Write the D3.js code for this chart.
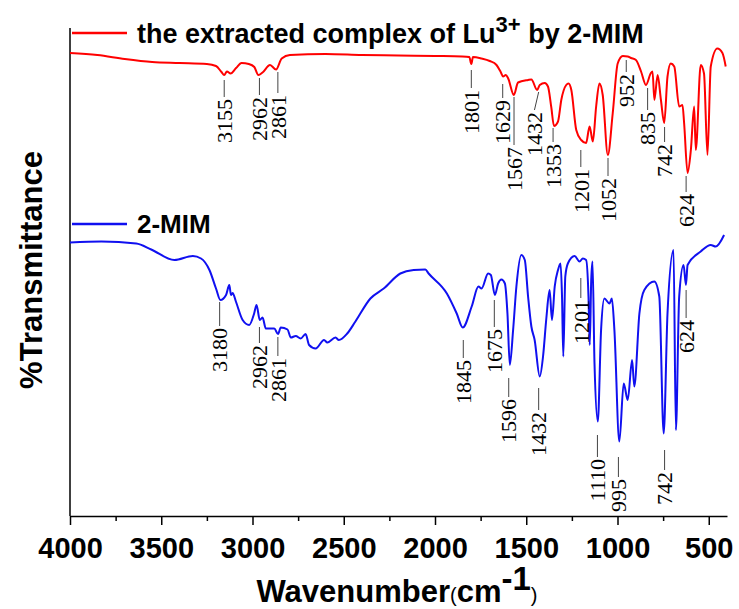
<!DOCTYPE html>
<html>
<head>
<meta charset="utf-8">
<script src="https://cdn.jsdelivr.net/npm/d3@7"></script>
<style>
  body { margin: 0; background: #fff; }
</style>
</head>
<body>
<div id="ftir"></div>
<script>
// FTIR spectra, wavenumber (cm-1) and %T
const redWn = [4000,3850,3700,3550,3400,3250,3200,3170,3155,3140,3120,3090,3060,3020,2990,2968,2945,2904,2871,2840,2795,2600,2400,2200,2000,1850,1812,1801,1792,1745,1700,1663,1640,1627,1612,1599,1568,1545,1490,1472,1440,1426,1399,1381,1363,1348,1326,1308,1281,1268,1253,1226,1199,1172,1153,1135,1117,1099,1081,1053,1026,999,971,944,926,899,871,844,817,808,798,780,762,744,726,708,689,662,644,635,616,598,580,571,544,526,507,489,453,425,407];
const redT = [92.6,92.2,91.4,90.8,90.6,90.4,90.0,88.8,88.2,88.9,88.5,89.6,90.6,90.4,89.8,88.2,88.7,90.2,89.3,91.5,92.2,92.4,92.2,92.1,92.0,91.9,91.8,90.4,91.8,91.5,91.0,90.2,88.8,87.9,88.2,87.5,84.2,86.7,87.2,87.3,85.2,86.2,86.6,85.9,81.8,78.0,78.9,83.2,86.2,86.5,85.2,77.2,75.2,74.6,77.9,74.9,81.9,86.5,84.2,72.2,80.6,90.5,92.0,91.9,91.6,91.2,88.9,86.2,88.6,88.9,83.2,88.2,83.2,78.6,87.9,90.5,89.9,81.9,82.2,78.6,68.6,73.2,81.9,73.2,90.2,88.5,72.2,89.9,93.5,92.6,89.9];

const blueWn = [4000,3828,3637,3555,3428,3327,3282,3236,3200,3176,3145,3127,3118,3109,3091,3054,3018,2991,2978,2960,2945,2927,2881,2860,2845,2808,2790,2763,2736,2709,2690,2654,2608,2590,2545,2527,2481,2436,2354,2281,2190,2117,2053,2035,1935,1881,1848,1799,1762,1745,1709,1694,1672,1654,1636,1617,1603,1590,1572,1554,1527,1508,1490,1472,1454,1426,1408,1390,1372,1359,1344,1326,1312,1304,1297,1286,1272,1235,1208,1190,1172,1159,1152,1144,1137,1126,1108,1090,1072,1044,1031,1017,990,966,944,920,908,880,853,798,771,747,726,693,680,662,638,625,616,544,489,462,416];
const blueT = [54.7,54.9,54.5,53.3,51.2,52.0,51.5,49.2,45.5,43.2,44.2,46.2,44.2,44.6,42.9,39.2,38.2,40.5,42.2,39.2,39.7,37.5,37.5,36.4,37.7,37.3,35.7,36.0,35.5,36.4,34.2,33.5,35.2,34.7,35.7,35.2,36.5,38.9,43.5,45.5,48.5,49.2,49.3,48.5,44.5,40.5,37.7,41.9,45.9,45.5,48.5,48.2,44.2,46.5,47.3,46.5,40.5,30.2,37.2,45.9,52.2,51.2,43.9,37.9,35.2,27.9,31.9,39.5,45.2,39.2,45.9,49.2,50.5,43.9,31.9,47.9,50.5,52.0,50.9,51.5,51.2,43.9,34.2,47.2,50.9,30.5,18.9,37.2,43.5,42.5,43.5,37.2,14.9,26.5,23.2,31.2,25.9,40.5,45.2,46.9,43.9,16.5,40.5,53.2,17.2,43.9,50.2,46.2,50.2,52.9,54.2,53.9,56.2];

// peak labels: text, wavenumber, %T at leader top, %T at leader bottom
const redPeaks = ["3155","2962","2861","1801","1629","1567","1432","1353","1201","1052","952","835","742","624"];
const redPeakWn = [3155,2962,2861,1801,1629,1567,1432,1353,1201,1052,952,835,742,624];
const redPeakLabelWn = [3155,2962,2861,1801,1629,1567,1455,1353,1201,1052,952,835,742,624];
const redPeakTop = [87.2,87.6,88.8,89.2,86.4,83.8,84.8,77.6,73.2,71.6,91.2,85.6,77.8,68.0];
const redPeakBottom = [83.8,84.2,84.6,85.6,83.6,74.2,81.2,74.8,69.8,68.0,88.8,81.2,74.8,64.8];

const bluePeaks = ["3180","2962","2861","1845","1675","1596","1432","1201","1110","995","742","624"];
const bluePeakWn = [3180,2962,2861,1845,1675,1596,1432,1201,1110,995,742,624];
const bluePeakTop = [42.8,37.8,35.8,35.2,43.2,27.6,25.6,47.6,16.2,11.8,13.2,45.2];
const bluePeakBottom = [38.0,34.6,32.0,31.6,37.8,23.8,21.2,43.6,11.8,7.8,9.2,39.6];

const xTicks = [4000,3500,3000,2500,2000,1500,1000,500];
const xMinorTicks = [3750,3250,2750,2250,1750,1250,750];
const yAxisTop = 97.6;

const width = 739, height = 609;

const svg = d3.select("#ftir")
  .append("svg")
  .attr("width", width)
  .attr("height", height);

const x = d3.scaleLinear().domain([4000, 400]).range([70, 727]);
const y = d3.scaleLinear().domain([0, 100]).range([516, 16]);

// axes
svg.append("g")
  .attr("transform", `translate(0,${y(0)})`)
  .call(d3.axisBottom(x).tickValues(xMinorTicks).tickSize(5).tickFormat(""))
  .call(g => g.select(".domain").remove())
  .selectAll("line").attr("stroke-width", 1.5);

const xAxis = svg.append("g")
  .attr("transform", `translate(0,${y(0)})`)
  .call(d3.axisBottom(x).tickValues(xTicks).tickSize(9).tickSizeOuter(0).tickPadding(12).tickFormat(d3.format("d")));
xAxis.select(".domain").attr("stroke-width", 1.5);
xAxis.selectAll("line").attr("stroke-width", 1.5);
xAxis.selectAll("text")
  .style("font-family", "'Liberation Sans', Arial, sans-serif")
  .style("font-weight", "bold")
  .style("font-size", "29px")
  .attr("fill", "#000");

svg.append("line")
  .attr("x1", x(4000)).attr("x2", x(4000))
  .attr("y1", y(0)).attr("y2", y(yAxisTop))
  .attr("stroke", "#000")
  .attr("stroke-width", 1.5);

// spectra
const line = d3.line()
  .x(d => x(d[0]))
  .y(d => y(d[1]))
  .curve(d3.curveMonotoneX);

svg.append("path")
  .datum(redWn.map((w, i) => [w, redT[i]]))
  .attr("fill", "none")
  .attr("stroke", "#ff0000")
  .attr("stroke-width", 2)
  .attr("d", line);

svg.append("path")
  .datum(blueWn.map((w, i) => [w, blueT[i]]))
  .attr("fill", "none")
  .attr("stroke", "#1010f0")
  .attr("stroke-width", 2)
  .attr("d", line);

// peak annotations
function drawPeaks(labels, wn, labelWn, top, bottom) {
  const g = svg.append("g");
  labels.forEach((lbl, i) => {
    g.append("line")
      .attr("x1", x(wn[i])).attr("y1", y(top[i]))
      .attr("x2", x(labelWn[i])).attr("y2", y(bottom[i]))
      .attr("stroke", "#444")
      .attr("stroke-width", 1);
    g.append("text")
      .attr("transform", `translate(${x(labelWn[i])},${y(bottom[i]) + 2}) rotate(-90)`)
      .attr("text-anchor", "end")
      .attr("dy", "0.35em")
      .style("font-family", "'Liberation Serif', 'Times New Roman', serif")
      .style("font-size", "22px")
      .attr("fill", "#000")
      .text(lbl);
  });
}
drawPeaks(redPeaks, redPeakWn, redPeakLabelWn, redPeakTop, redPeakBottom);
drawPeaks(bluePeaks, bluePeakWn, bluePeakWn, bluePeakTop, bluePeakBottom);

// legends
const legendFont = "'Liberation Sans', Arial, sans-serif";
svg.append("line")
  .attr("x1", 72).attr("x2", 127).attr("y1", 33).attr("y2", 33)
  .attr("stroke", "#ff0000").attr("stroke-width", 2.5);
const lt = svg.append("text")
  .attr("x", 137).attr("y", 43)
  .style("font-family", legendFont)
  .style("font-weight", "bold")
  .style("font-size", "27px")
  .attr("fill", "#000");
lt.append("tspan").text("the extracted complex of Lu");
lt.append("tspan").attr("dy", -11).style("font-size", "22px").text("3+");
lt.append("tspan").attr("dy", 11).text(" by 2-MIM");

svg.append("line")
  .attr("x1", 72).attr("x2", 127).attr("y1", 224).attr("y2", 224)
  .attr("stroke", "#1010f0").attr("stroke-width", 2.5);
svg.append("text")
  .attr("x", 137).attr("y", 233)
  .style("font-family", legendFont)
  .style("font-weight", "bold")
  .style("font-size", "26px")
  .attr("fill", "#000")
  .text("2-MIM");

// axis titles
svg.append("text")
  .attr("transform", "translate(42,270) rotate(-90)")
  .attr("text-anchor", "middle")
  .style("font-family", legendFont)
  .style("font-weight", "bold")
  .style("font-size", "31px")
  .attr("fill", "#000")
  .text("%Transmittance");

const xt = svg.append("text")
  .attr("x", 397).attr("y", 602)
  .attr("text-anchor", "middle")
  .style("font-family", legendFont)
  .style("font-weight", "bold")
  .style("font-size", "31px")
  .attr("fill", "#000");
xt.append("tspan").text("Wavenumber");
xt.append("tspan").style("font-size", "20px").style("font-weight", "normal").text("(");
xt.append("tspan").text("cm");
xt.append("tspan").attr("dy", -12).style("font-size", "33px").text("-1");
xt.append("tspan").attr("dy", 12).style("font-size", "20px").style("font-weight", "normal").text(")");
</script>
</body>
</html>
